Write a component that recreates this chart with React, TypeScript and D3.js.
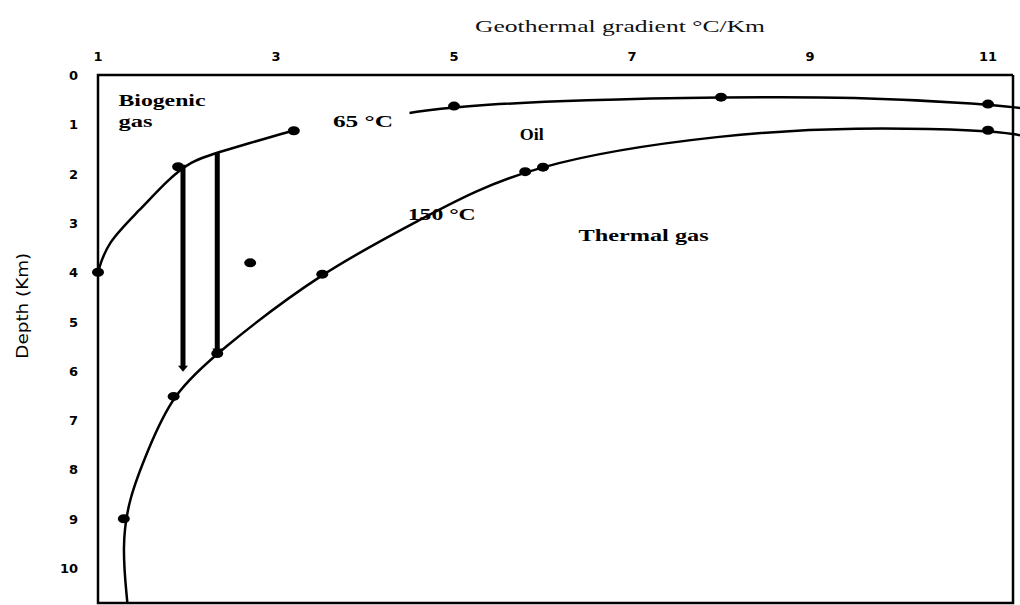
import React from 'react';
import * as d3 from 'd3';

// [gradient °C/Km, depth Km]
const xTicks = [1, 3, 5, 7, 9, 11];
const yTicks = [0, 1, 2, 3, 4, 5, 6, 7, 8, 9, 10];

const biogenicCurve: [number, number][] = [
  [1.0, 4.0], [1.1, 3.4], [1.47, 2.74], [1.78, 2.13], [2.05, 1.74],
  [2.34, 1.57], [3.19, 1.13],
];
const curve65: [number, number][] = [
  [4.5, 0.77], [5, 0.63], [6.5, 0.5], [8, 0.45], [9.5, 0.44],
  [11, 0.59], [11.36, 0.67],
];
const curve150: [number, number][] = [
  [1.33, 10.71], [1.27, 9.57], [1.34, 8.62], [1.56, 7.61], [1.83, 6.49],
  [2.34, 5.62], [3.52, 3.98], [4.62, 2.94], [5.82, 1.78], [8.1, 1.18],
  [9.5, 1.06], [11.0, 1.12], [11.36, 1.22],
];
const dots: [number, number][] = [
  [1.0, 4.0], [1.9, 1.86], [3.2, 1.13],
  [5.0, 0.63], [8.0, 0.45], [11.0, 0.59],
  [1.29, 9.0], [1.85, 6.52], [3.52, 4.04], [5.8, 1.96], [6.0, 1.87],
  [11.0, 1.12], [2.71, 3.81], [2.34, 5.65],
];
// vertical arrows: gradient, top depth, bottom depth
const arrows: [number, number, number][] = [
  [1.955, 1.82, 6.0],
  [2.34, 1.58, 5.65],
];
const labels = [
  { text: 'Biogenic', x: 1.23, y: 0.63, w: 87 },
  { text: 'gas', x: 1.23, y: 1.05, w: 34 },
  { text: '65 °C', x: 3.64, y: 1.05, w: 60 },
  { text: 'Oil', x: 5.74, y: 1.32, w: 24 },
  { text: '150 °C', x: 4.48, y: 2.95, w: 68 },
  { text: 'Thermal gas', x: 6.4, y: 3.36, w: 130 },
];

function App() {
  const width = 1020;
  const height = 605;
  const left = 98;
  const top = 75;
  const right = 1013;
  const bottom = 603;

  const x = d3.scaleLinear().domain([1, 11]).range([98, 988]);
  const y = d3.scaleLinear().domain([0, 10]).range([75, 568]);

  const line = d3
    .line<[number, number]>()
    .x((d) => x(d[0]))
    .y((d) => y(d[1]))
    .curve(d3.curveBasis);

  const serif = '"Liberation Serif", "Times New Roman", serif';

  return (
    <svg
      width={width}
      height={height}
      style={{ position: 'absolute', left: 0, top: 0, background: '#fff' }}
    >
      <defs>
        <clipPath id="plot">
          <rect x={left} y={top} width={width - left} height={bottom - top} />
        </clipPath>
      </defs>
      <text
        x={475}
        y={32}
        textLength={290}
        lengthAdjust="spacingAndGlyphs"
        fontFamily={serif}
        fontSize={17}
        fill="#111"
      >
        Geothermal gradient °C/Km
      </text>
      {xTicks.map((t) => (
        <text
          key={t}
          x={x(t)}
          y={61}
          textAnchor="middle"
          fontFamily="DejaVu Sans, sans-serif"
          fontWeight="bold"
          fontSize={13}
        >
          {t}
        </text>
      ))}
      {yTicks.map((t) => (
        <text
          key={t}
          x={78}
          y={y(t) + 5}
          textAnchor="end"
          fontFamily="DejaVu Sans, sans-serif"
          fontWeight="bold"
          fontSize={13}
        >
          {t}
        </text>
      ))}
      <text
        transform={`translate(28 ${y(4.7) + 52}) rotate(-90)`}
        textLength={106}
        lengthAdjust="spacingAndGlyphs"
        fontFamily='"Liberation Sans Narrow", "DejaVu Sans Condensed", sans-serif'
        fontSize={15}
      >
        Depth (Km)
      </text>

      <path
        d={`M ${right} ${top} H ${left} V ${bottom} H ${right} V ${top}`}
        fill="none"
        stroke="#000"
        strokeWidth={2.5}
      />

      <g clipPath="url(#plot)" fill="none" stroke="#000">
        <path d={line(biogenicCurve) ?? ''} strokeWidth={2.5} />
        <path d={line(curve65) ?? ''} strokeWidth={2.5} />
        <path d={line(curve150) ?? ''} strokeWidth={2.5} />
      </g>

      {arrows.map(([g, d0, d1]) => (
        <g key={g}>
          <line
            x1={x(g)}
            x2={x(g)}
            y1={y(d0)}
            y2={y(d1) - 3}
            stroke="#000"
            strokeWidth={5}
          />
          <path
            d={`M ${x(g) - 5} ${y(d1) - 5} L ${x(g) + 5} ${y(d1) - 5} L ${x(g)} ${y(d1) + 1} Z`}
            fill="#000"
          />
        </g>
      ))}

      {dots.map(([g, d], i) => (
        <ellipse key={i} cx={x(g)} cy={y(d)} rx={6} ry={4.5} fill="#000" />
      ))}

      {labels.map((l) => (
        <text
          key={l.text}
          x={x(l.x)}
          y={y(l.y)}
          textLength={l.w}
          lengthAdjust="spacingAndGlyphs"
          fontFamily={serif}
          fontWeight="bold"
          fontSize={16}
        >
          {l.text}
        </text>
      ))}
    </svg>
  );
}

export default App;
